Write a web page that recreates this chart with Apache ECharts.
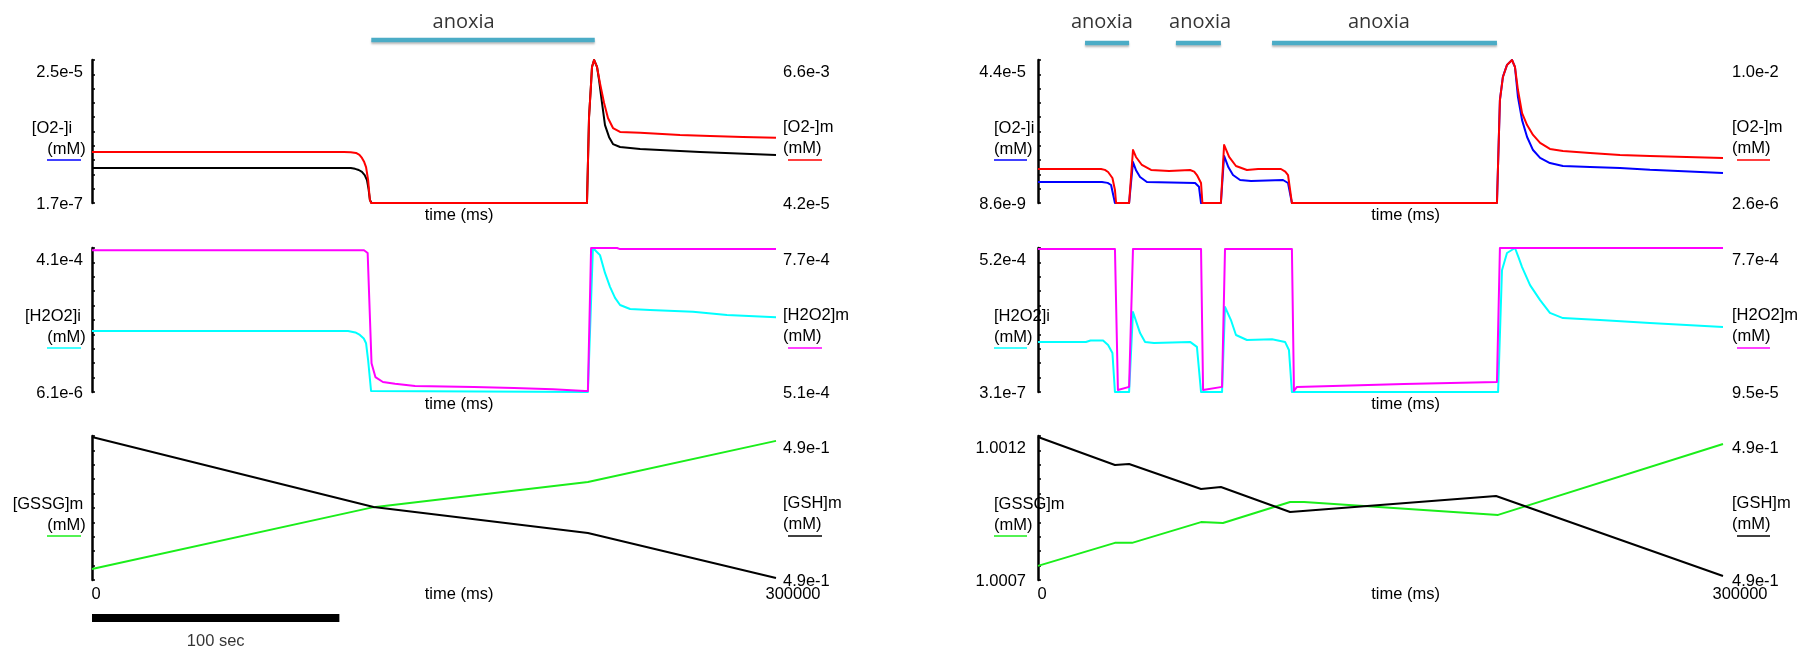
<!DOCTYPE html>
<html><head><meta charset="utf-8">
<script src="https://cdn.jsdelivr.net/npm/echarts@6/dist/echarts.min.js"></script>
<style>html,body{margin:0;padding:0;background:#fff}#c{width:1811px;height:655px}</style>
</head><body><div id="c"></div>
<script>
// ---------------- DATA ----------------
const timeRange = [0, 300000];
const timeTickLabels = ['0', '300000'];
const timeAxisName = 'time (ms)';
const anoxiaA = [[122500, 220500]];
const anoxiaB = [[20600, 39900], [60400, 80100], [102500, 201000]];
const anoxiaLabelTimesA = [163000];
const anoxiaLabelTimesB = [28000, 71000, 149300];
const anoxiaText = 'anoxia';
const scaleBar = [0, 108500];
const scaleBarText = '100 sec';

// axis ranges [min,max] and their tick labels [min,max]
const o2iAxisA = [1.7e-7, 2.5e-5];   const o2iLabelsA = ['1.7e-7', '2.5e-5'];
const o2mAxisA = [4.2e-5, 6.6e-3];   const o2mLabelsA = ['4.2e-5', '6.6e-3'];
const h2o2iAxisA = [6.1e-6, 4.1e-4]; const h2o2iLabelsA = ['6.1e-6', '4.1e-4'];
const h2o2mAxisA = [5.1e-4, 7.7e-4]; const h2o2mLabelsA = ['5.1e-4', '7.7e-4'];
const gssgAxisA = [1.0007, 1.0012];  const gssgLabelsA = null;
const gshAxisA = [0.4895, 0.4905];   const gshLabelsA = ['4.9e-1', '4.9e-1'];

const o2iAxisB = [8.6e-9, 4.4e-5];   const o2iLabelsB = ['8.6e-9', '4.4e-5'];
const o2mAxisB = [2.6e-6, 1.0e-2];   const o2mLabelsB = ['2.6e-6', '1.0e-2'];
const h2o2iAxisB = [3.1e-7, 5.2e-4]; const h2o2iLabelsB = ['3.1e-7', '5.2e-4'];
const h2o2mAxisB = [9.5e-5, 7.7e-4]; const h2o2mLabelsB = ['9.5e-5', '7.7e-4'];
const gssgAxisB = [1.0007, 1.0012];  const gssgLabelsB = ['1.0007', '1.0012'];
const gshAxisB = [0.4895, 0.4905];   const gshLabelsB = ['4.9e-1', '4.9e-1'];

// series [time ms, value mM]
const o2iA = [[0,6.25e-6],[113500,6.24e-6],[115400,6.1e-6],[117000,5.9e-6],[118400,5.56e-6],[119600,5.0e-6],[120600,4.17e-6],[121300,2.6e-6],[121900,6.9e-7],[122600,1.7e-7],[217100,1.7e-7],[218000,1.51e-5],[218900,2.10e-5],[219300,2.38e-5],[220200,2.5e-5],[221500,2.38e-5],[222400,2.15e-5],[223700,1.75e-5],[225000,1.37e-5],[226800,1.16e-5],[228500,1.04e-5],[231600,9.90e-6],[240400,9.55e-6],[257900,9.21e-6],[266700,9.03e-6],[300000,8.51e-6]];
const o2mA = [[0,2.38e-3],[110500,2.38e-3],[113500,2.37e-3],[115800,2.34e-3],[117300,2.25e-3],[118400,2.11e-3],[119400,1.92e-3],[120200,1.69e-3],[121100,1.10e-3],[121600,5.0e-4],[121900,1.8e-4],[122400,4.2e-5],[217100,4.2e-5],[218000,3.98e-3],[218900,5.54e-3],[219300,6.28e-3],[220200,6.6e-3],[221500,6.28e-3],[222800,5.54e-3],[224600,4.63e-3],[226300,3.94e-3],[228500,3.48e-3],[231600,3.30e-3],[240400,3.26e-3],[257900,3.16e-3],[271100,3.12e-3],[285500,3.07e-3],[300000,3.03e-3]];
const h2o2iA = [[0,1.77e-4],[112300,1.77e-4],[115500,1.73e-4],[117500,1.66e-4],[119200,1.56e-4],[120200,1.43e-4],[121100,9.58e-5],[122400,8.9e-6],[123000,6.1e-6],[217500,6.1e-6],[219700,4.1e-4],[222800,3.90e-4],[225000,3.40e-4],[227200,3.01e-4],[229400,2.70e-4],[231600,2.50e-4],[236000,2.39e-4],[244700,2.36e-4],[263600,2.31e-4],[278500,2.22e-4],[300000,2.16e-4]];
const h2o2mA = [[0,7.66e-4],[119300,7.66e-4],[120900,7.61e-4],[122600,5.62e-4],[124300,5.37e-4],[127600,5.28e-4],[132900,5.25e-4],[141700,5.21e-4],[167500,5.19e-4],[185100,5.17e-4],[202200,5.15e-4],[216200,5.12e-4],[217500,5.12e-4],[218900,7.7e-4],[230300,7.7e-4],[231600,7.68e-4],[300000,7.68e-4]];
const gssgA = [[0,1.000738],[123500,1.000953],[217500,1.001040],[300000,1.001183]];
const gshA = [[0,0.490493],[123500,0.490007],[217500,0.489826],[300000,0.489514]];

const o2iB = [[0,6.47e-6],[28000,6.47e-6],[30500,6.2e-6],[32000,5.54e-6],[33700,8.6e-9],[39900,8.6e-9],[41600,1.26e-5],[43000,1.0e-5],[44700,8.01e-6],[47700,6.47e-6],[68800,6.16e-6],[70500,5.0e-6],[71400,8.6e-9],[80100,8.6e-9],[81500,1.45e-5],[83400,1.1e-5],[85400,8.62e-6],[88500,7.08e-6],[93300,6.77e-6],[107300,7.08e-6],[109500,6.16e-6],[111200,8.6e-9],[201000,8.6e-9],[202300,3.17e-5],[203600,3.88e-5],[205400,4.25e-5],[207600,4.4e-5],[208900,4.18e-5],[210200,3.26e-5],[212000,2.55e-5],[214200,2.03e-5],[216800,1.63e-5],[219900,1.39e-5],[224200,1.23e-5],[229900,1.14e-5],[241800,1.11e-5],[254900,1.08e-5],[268000,1.02e-5],[300000,9.25e-6]];
const o2mB = [[0,2.38e-3],[27600,2.38e-3],[29300,2.32e-3],[30700,2.17e-3],[32600,1.75e-3],[33700,9.12e-4],[34200,2.6e-6],[39900,2.6e-6],[41600,3.71e-3],[42900,3.22e-3],[45500,2.66e-3],[49500,2.31e-3],[57400,2.24e-3],[66600,2.31e-3],[68400,2.2e-3],[69600,1.96e-3],[71400,1.40e-3],[72000,2.6e-6],[80100,2.6e-6],[81500,4.06e-3],[83700,3.22e-3],[86700,2.59e-3],[91500,2.31e-3],[96400,2.38e-3],[106400,2.38e-3],[108300,2.2e-3],[109500,1.96e-3],[111200,2.6e-6],[201000,2.6e-6],[202300,7.20e-3],[203600,8.81e-3],[205400,9.65e-3],[207600,1.0e-2],[208900,9.51e-3],[210200,7.90e-3],[212000,6.29e-3],[214200,5.45e-3],[216800,4.76e-3],[219900,4.20e-3],[224200,3.78e-3],[229900,3.64e-3],[241800,3.50e-3],[254900,3.36e-3],[268000,3.29e-3],[300000,3.15e-3]];
const h2o2iB = [[0,1.81e-4],[21000,1.81e-4],[23000,1.86e-4],[28500,1.86e-4],[30700,1.70e-4],[32600,1.41e-4],[33700,3.1e-7],[39900,3.1e-7],[41600,2.89e-4],[44700,2.13e-4],[46900,1.81e-4],[50800,1.77e-4],[66600,1.81e-4],[69600,1.63e-4],[71400,3.1e-7],[80600,3.1e-7],[81900,3.07e-4],[84500,2.60e-4],[86700,2.06e-4],[91500,1.88e-4],[102500,1.91e-4],[108200,1.81e-4],[109900,1.52e-4],[111200,3.1e-7],[201500,3.1e-7],[203200,4.40e-4],[205400,5.02e-4],[208900,5.2e-4],[210500,4.85e-4],[212000,4.51e-4],[215500,3.86e-4],[219900,3.32e-4],[224200,2.86e-4],[229900,2.67e-4],[246100,2.60e-4],[268000,2.49e-4],[300000,2.35e-4]];
const h2o2mB = [[0,7.65e-4],[33700,7.65e-4],[35000,1.04e-4],[39900,1.19e-4],[41600,7.65e-4],[71400,7.65e-4],[72300,1.04e-4],[80600,1.19e-4],[81900,7.65e-4],[111200,7.65e-4],[112100,9.97e-5],[113400,1.19e-4],[160300,1.33e-4],[201000,1.42e-4],[201500,1.42e-4],[202300,7.7e-4],[300000,7.7e-4]];
const gssgB = [[0,1.000749],[33700,1.000829],[41200,1.000829],[71400,1.000901],[81000,1.000898],[110400,1.000971],[116500,1.000971],[201500,1.000926],[300000,1.001172]];
const gshB = [[0,0.490493],[33700,0.490299],[39900,0.490306],[71400,0.490132],[80100,0.490146],[110400,0.489972],[200600,0.490083],[300000,0.489528]];

// ---------------- LAYOUT / STYLE ----------------
const FF = '"Liberation Sans", Arial, Helvetica, sans-serif';
const FS = 16.5;
const ROWS = [{top: 60, h: 143}, {top: 248, h: 144}, {top: 436, h: 144}];
const C = {red:'#ff0000', black:'#000000', blue:'#0000ff', cyan:'#00ffff', magenta:'#ff00ff', green:'#1aee1a', bar:'#4bacc6'};

const panels = [
  { x0: 92, x1: 776, lMargin: 9, rMargin: 7, barY: 40, barLabelDist: 8, anox: anoxiaA, anoxLbl: anoxiaLabelTimesA,
    lNameX: [52, 53, 48], rNameDx: 7, ulR: [12, 46],
    rows: [
      {lName:'[O2-]i', lCol:C.blue, lAxis:o2iAxisA, lLab:o2iLabelsA, rName:'[O2-]m', rCol:C.red, rAxis:o2mAxisA, rLab:o2mLabelsA,
       lines:[{d:o2iA, c:C.black, s:0}, {d:o2mA, c:C.red, s:1}]},
      {lName:'[H2O2]i', lCol:C.cyan, lAxis:h2o2iAxisA, lLab:h2o2iLabelsA, rName:'[H2O2]m', rCol:C.magenta, rAxis:h2o2mAxisA, rLab:h2o2mLabelsA,
       lines:[{d:h2o2iA, c:C.cyan, s:0}, {d:h2o2mA, c:C.magenta, s:1}]},
      {lName:'[GSSG]m', lCol:C.green, lAxis:gssgAxisA, lLab:gssgLabelsA, rName:'[GSH]m', rCol:C.black, rAxis:gshAxisA, rLab:gshLabelsA,
       lines:[{d:gssgA, c:C.green, s:0}, {d:gshA, c:C.black, s:1}]}
    ]},
  { x0: 1038, x1: 1723, lMargin: 12, rMargin: 9, barY: 43, barLabelDist: 11, anox: anoxiaB, anoxLbl: anoxiaLabelTimesB,
    lNameX: null, rNameDx: 9, ulR: [14, 47],
    rows: [
      {lName:'[O2-]i', lCol:C.blue, lAxis:o2iAxisB, lLab:o2iLabelsB, rName:'[O2-]m', rCol:C.red, rAxis:o2mAxisB, rLab:o2mLabelsB,
       lines:[{d:o2iB, c:C.blue, s:0}, {d:o2mB, c:C.red, s:1}]},
      {lName:'[H2O2]i', lCol:C.cyan, lAxis:h2o2iAxisB, lLab:h2o2iLabelsB, rName:'[H2O2]m', rCol:C.magenta, rAxis:h2o2mAxisB, rLab:h2o2mLabelsB,
       lines:[{d:h2o2iB, c:C.cyan, s:0}, {d:h2o2mB, c:C.magenta, s:1}]},
      {lName:'[GSSG]m', lCol:C.green, lAxis:gssgAxisB, lLab:gssgLabelsB, rName:'[GSH]m', rCol:C.black, rAxis:gshAxisB, rLab:gshLabelsB,
       lines:[{d:gssgB, c:C.green, s:0}, {d:gshB, c:C.black, s:1}]}
    ]}
];

const txt = {fontSize: FS, fontFamily: FF, color: '#000'};

function yLabels(range, labels, margin) {
  if (!labels) return {show: false};
  return {
    show: true, customValues: [range[0], range[1]], margin: margin, ...txt,
    formatter: v => (Math.abs(v - range[1]) < Math.abs(v - range[0])) ? '{mx|' + labels[1] + '}' : '{mn|' + labels[0] + '}',
    rich: {mx: {...txt, padding: [24, 0, 0, 0]}, mn: {...txt, padding: [2, 0, 0, 0]}}
  };
}

const grid = [], xAxis = [], yAxis = [], series = [], graphic = [];

panels.forEach((P, pi) => {
  P.rows.forEach((R, ri) => {
    const row = ROWS[ri];
    const gi = grid.length;
    grid.push({left: P.x0, width: P.x1 - P.x0, top: row.top, height: row.h, containLabel: false, outerBoundsMode: 'none'});
    const bottomRow = ri === 2;
    xAxis.push({
      gridIndex: gi, type: 'value', min: timeRange[0], max: timeRange[1],
      axisLine: {show: false}, axisTick: {show: false}, splitLine: {show: false},
      axisLabel: bottomRow ? {
        show: true, customValues: timeRange.slice(), margin: 6, ...txt,
        formatter: v => v === timeRange[0] ? '{z|' + timeTickLabels[0] + '}' : '{e|' + timeTickLabels[1] + '}',
        rich: {z: {...txt, padding: [0, 0, 0, 8]}, e: {...txt, padding: [0, 0, 0, 34]}}
      } : {show: false},
      name: timeAxisName, nameLocation: 'middle', nameGap: bottomRow ? 6 : 4, nameMoveOverlap: false,
      nameTextStyle: {...txt, padding: [0, 0, 0, 50]}
    });
    const yl = yAxis.length;
    const ticks = [];
    for (let k = 0; k <= 10; k++) ticks.push(R.lAxis[0] + (R.lAxis[1] - R.lAxis[0]) * k / 10);
    yAxis.push({
      gridIndex: gi, type: 'value', position: 'left', min: R.lAxis[0], max: R.lAxis[1], scale: true,
      axisLine: {show: true, onZero: false, lineStyle: {color: '#000', width: 2.5}},
      axisTick: {show: true, inside: true, length: 3, customValues: ticks, lineStyle: {color: '#000', width: 1.5}},
      splitLine: {show: false},
      axisLabel: yLabels(R.lAxis, R.lLab, P.lMargin)
    });
    yAxis.push({
      gridIndex: gi, type: 'value', position: 'right', min: R.rAxis[0], max: R.rAxis[1], scale: true,
      axisLine: {show: false}, axisTick: {show: false}, splitLine: {show: false},
      axisLabel: {...yLabels(R.rAxis, R.rLab, P.rMargin), align: 'left'}
    });
    R.lines.forEach((L, li) => {
      series.push({
        type: 'line', xAxisIndex: gi, yAxisIndex: yl + L.s, data: L.d,
        symbol: 'none', showSymbol: false, clip: false, z: 2 + li,
        lineStyle: {color: L.c, width: 2, join: 'round'}, itemStyle: {color: L.c}
      });
    });
    // axis names and colour keys
    const ny = row.top + 68, my = row.top + 89.5, uy = row.top + 100;
    const tstyle = (t, align) => ({text: t, font: FS + 'px ' + FF, fill: '#000', align: align, textAlign: align, verticalAlign: 'middle', textVerticalAlign: 'middle'});
    if (pi === 0) {
      graphic.push({type: 'text', x: P.lNameX[ri], y: ny, style: tstyle(R.lName, 'center'), z: 10});
      graphic.push({type: 'text', x: 66.5, y: my, style: tstyle('(mM)', 'center'), z: 10});
      graphic.push({type: 'line', shape: {x1: 47, y1: uy, x2: 81, y2: uy}, style: {stroke: R.lCol, lineWidth: 1.5}, z: 10});
    } else {
      graphic.push({type: 'text', x: 994, y: ny, style: tstyle(R.lName, 'left'), z: 10});
      graphic.push({type: 'text', x: 994, y: my, style: tstyle('(mM)', 'left'), z: 10});
      graphic.push({type: 'line', shape: {x1: 994, y1: uy, x2: 1027, y2: uy}, style: {stroke: R.lCol, lineWidth: 1.5}, z: 10});
    }
    const rx = P.x1 + P.rNameDx;
    graphic.push({type: 'text', x: rx, y: ny - 1, style: tstyle(R.rName, 'left'), z: 10});
    graphic.push({type: 'text', x: rx, y: my - 1, style: tstyle('(mM)', 'left'), z: 10});
    graphic.push({type: 'line', shape: {x1: P.x1 + P.ulR[0], y1: uy, x2: P.x1 + P.ulR[1], y2: uy}, style: {stroke: R.rCol, lineWidth: 1.5}, z: 10});
  });

  // anoxia bars
  const ag = grid.length;
  grid.push({left: P.x0, width: P.x1 - P.x0, top: P.barY - 4, height: 8, outerBoundsMode: 'none'});
  xAxis.push({gridIndex: ag, type: 'value', min: timeRange[0], max: timeRange[1], show: false});
  const ay = yAxis.length;
  yAxis.push({gridIndex: ag, type: 'value', min: 0, max: 1, show: false});
  P.anox.forEach(seg => {
    series.push({type: 'line', xAxisIndex: ag, yAxisIndex: ay, data: [[seg[0], 0.5], [seg[1], 0.5]],
      symbol: 'none', clip: false,
      lineStyle: {color: C.bar, width: 4.5, cap: 'butt', shadowColor: 'rgba(0,0,0,0.25)', shadowBlur: 2, shadowOffsetY: 2}});
  });
  series.push({type: 'scatter', xAxisIndex: ag, yAxisIndex: ay, data: P.anoxLbl.map(t => [t, 0.5]), symbolSize: 0, clip: false,
    label: {show: true, position: 'top', distance: P.barLabelDist, formatter: anoxiaText, fontSize: 20, fontFamily: '"Open Sans", "Noto Sans", sans-serif', color: '#000'}});
});

// scale bar (left panel)
const sg = grid.length;
grid.push({left: 92, width: 684, top: 614, height: 8, outerBoundsMode: 'none'});
xAxis.push({gridIndex: sg, type: 'value', min: timeRange[0], max: timeRange[1], show: false});
const sy = yAxis.length;
yAxis.push({gridIndex: sg, type: 'value', min: 0, max: 1, show: false});
series.push({type: 'line', xAxisIndex: sg, yAxisIndex: sy, data: [[scaleBar[0], 0.5], [scaleBar[1], 0.5]], symbol: 'none', clip: false,
  lineStyle: {color: '#000', width: 8, cap: 'butt'}});
series.push({type: 'scatter', xAxisIndex: sg, yAxisIndex: sy, data: [[(scaleBar[0] + scaleBar[1]) / 2, 0.5]], symbolSize: 0, clip: false,
  label: {show: true, position: 'bottom', distance: 15, formatter: scaleBarText, ...txt}});

const chart = echarts.init(document.getElementById('c'), null, {renderer: 'canvas', width: 1811, height: 655});
chart.setOption({animation: false, backgroundColor: '#ffffff', grid, xAxis, yAxis, series, graphic});
</script></body></html>
